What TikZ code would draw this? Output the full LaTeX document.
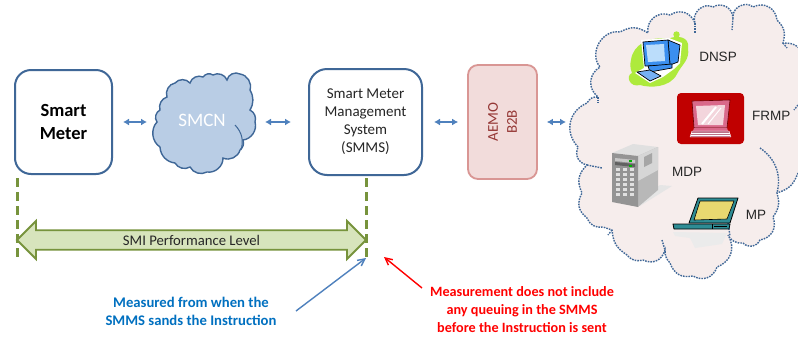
\documentclass[tikz,border=0pt]{standalone}
\usepackage{fontspec}
\setmainfont{Carlito}
\newfontfamily\arialf{Liberation Sans}
\usetikzlibrary{arrows.meta,shapes.arrows}
\definecolor{boxblue}{HTML}{3F6797}
\definecolor{linkblue}{HTML}{4F81BD}
\definecolor{cloudfill}{HTML}{B9CDE5}
\definecolor{cloudline}{HTML}{3F6797}
\definecolor{pinkfill}{HTML}{F2DCDB}
\definecolor{pinkline}{HTML}{D99694}
\definecolor{pinktext}{HTML}{953735}
\definecolor{greenline}{HTML}{77933C}
\definecolor{greenfill}{HTML}{D7E4BC}
\definecolor{bigfill}{HTML}{F6EDEC}
\definecolor{textblue}{HTML}{0070C0}
\definecolor{laptopteal}{HTML}{2E8C94}
\definecolor{limeblob}{HTML}{AEEA3C}
\definecolor{pcblue}{HTML}{3B8FEF}
\definecolor{pcscreen}{HTML}{BBDDFB}
\definecolor{frmpred}{HTML}{C00000}
\definecolor{lappink}{HTML}{D9698A}
\definecolor{lapscreen}{HTML}{F3D5DC}
\definecolor{lapyellow}{HTML}{E8D870}
\tikzset{
 roundbox/.style={draw=boxblue,line width=2pt,fill=white,rounded corners=16pt,inner sep=0pt},
 link/.style={draw=linkblue,line width=1.6pt,{Latex[length=6pt,width=7pt]}-{Latex[length=6pt,width=7pt]}},
 guide/.style={draw=greenline,line width=3pt,dash pattern=on 9pt off 5pt},
 devlabel/.style={font=\arialf\fontsize{13.5}{16}\selectfont,text=black!85,inner sep=0pt},
 callout/.style={line width=1.4pt,-{Straight Barb[length=7pt,width=7pt]}},
 dotline/.style={draw=cloudline,line width=1.4pt,dash pattern=on 1.6pt off 1.1pt},
 icon/.style={line join=round},
 bb/.style={bend left=#1,looseness=1.15}
}
\def\bigtop{(578,147) to[bb=55] (587,103) to[bb=30] (598,97)
 to[bb=55] (600,67) to[bb=70] (620,32) to[bb=30] (648,33)
 to[bb=60] (670,15) to[bb=50] (695,23) to[bb=70] (713,7)
 to[bb=60] (733,18) to[bb=70] (753,7) to[bb=55] (777,20)
 to[bb=30] (783,43) to[bb=40] (805,60)}
\def\bigbot{(798,173) to[bb=25] (777,193) to[bb=25] (773,217) to[bb=50] (760,240)
 to[bb=55] (743,243) to[bb=30] (728,235) to[bb=50] (717,267)
 to[bb=50] (693,276) to[bb=40] (670,263) to[bb=20] (665,250)
 to[bb=50] (643,260) to[bb=30] (627,255) to[bb=25] (612,230)
 to[bb=10] (603,227) to[bb=35] (587,218) to[bb=40] (582,193)
 to[bb=35] (587,165) to[bb=50] (578,147)}
\begin{document}
\begin{tikzpicture}[x=1pt,y=-1pt]
\useasboundingbox (0,0) rectangle (798,338);
\clip (0,0) rectangle (798,338);
\fill[white] (0,0) rectangle (798,338);
% ---- big cloud
\path[fill=bigfill] \bigtop -- (810,60) -- (810,173) -- \bigbot -- cycle;
\path[dotline] \bigtop;
\path[dotline] \bigbot;
% inner arcs of the big cloud
\path[dotline] (598,97) -- (598,103);
\path[dotline] (695,23) -- (695,33);
\path[dotline] (733,18) -- (732,30);
\path[dotline] (783,43) -- (787,48);
\path[dotline] (587,165) -- (602,168);
\path[dotline] (760,148) to[bend left=35] (777,193);
\path[dotline] (612,230) -- (608,235);
\path[dotline] (662,240) -- (665,250);
\path[dotline] (728,223) -- (730,236);
\path[dotline] (798,105) -- (794,110);
% ---- DNSP icon
\fill[icon,fill=limeblob] (631,60) .. controls (633,44) and (650,36) .. (668,39)
 .. controls (676,35) and (690,36) .. (688,48) .. controls (690,60) and (682,64) .. (677,74)
 .. controls (670,88) and (650,88) .. (640,85) .. controls (630,88) and (625,76) .. (632,73)
 .. controls (630,68) and (630,64) .. (631,60) -- cycle;
\fill[limeblob] (676.5,34.5) circle (3.2pt);
\begin{scope}[icon]
\fill[white] (641,40) -- (669,38) -- (682,43) -- (680,63) -- (674,69) -- (663,77) -- (650,83) -- (635,73) -- (644,68) -- cycle;
\filldraw[fill=pcblue,draw=black,line width=.7pt] (668,40) -- (680,45) -- (678,62) -- (670,65) -- cycle;
\filldraw[fill=pcblue,draw=black,line width=.7pt] (643,42) -- (668,40) -- (670,65) -- (645,66) -- cycle;
\fill[pcscreen] (646,45) -- (664,44) -- (665,61) -- (648,62) -- cycle;
\filldraw[fill=pcblue,draw=black,line width=.7pt] (648,66) -- (672,64) -- (672,68) -- (650,72) -- cycle;
\filldraw[fill=pcblue!70!white,draw=black,line width=.7pt] (637,72) -- (650,70) -- (661,76) -- (650,81) -- cycle;
\end{scope}
% ---- FRMP icon
\fill[fill=frmpred,rounded corners=4pt] (677,93) rectangle (744,144);
\begin{scope}[icon]
\filldraw[fill=lappink,draw=black!60!red,line width=.6pt] (692,101) -- (730,100) -- (727,128) -- (694,128) -- cycle;
\fill[lapscreen] (696,106) -- (725,105) -- (723,125) -- (698,125) -- cycle;
\draw[white,line width=2pt] (702,124) -- (716,107);
\draw[white,line width=1pt] (708,124) -- (721,108);
\fill[lappink] (694,128) -- (727,128) -- (728,131) -- (693,131) -- cycle;
\filldraw[fill=lappink!70!gray,draw=white,line width=.4pt] (692,131) -- (729,131) -- (731,137) -- (690,137) -- cycle;
\foreach \k in {133,135}{\draw[white,line width=.4pt] (691,\k) -- (730,\k);}
\end{scope}
% ---- MDP icon
\begin{scope}[icon]
\fill[black!10] (640,206) -- (672,186) -- (660,185) -- (638,200) -- cycle;
\fill[black!12] (612,153) -- (633,144) -- (658,147) -- (638,156) -- cycle;
\fill[black!28] (638,156) -- (658,147) -- (658,190) -- (638,207) -- cycle;
\fill[black!16] (638,156) -- (658,147) -- (658,170) -- (638,181) -- cycle;
\fill[black!42] (612,153) -- (638,156) -- (638,207) -- (612,202) -- cycle;
\fill[black!22] (615,158) -- (635,160) -- (635,163) -- (615,161) -- cycle;
\fill[black!62] (615,162) -- (635,164) -- (635,167) -- (615,165) -- cycle;
\fill[green!70!black] (629,160) rectangle (632,162);
\fill[green!70!black] (629,165) rectangle (632,167);
\foreach \cx in {616,623,630}{
 \foreach \cy in {168,173,178,183,188,193}{
  \fill[black!12] (\cx,\cy) rectangle ++(4,3.2);
 }
}
\fill[black!35] (644,157) -- (652,153) -- (652,163) -- (644,167) -- cycle;
\end{scope}
% ---- MP icon
\begin{scope}[icon]
\fill[black!8] (673,232) -- (727,233) -- (722,244) -- (695,248) -- (690,238) -- (675,236) -- cycle;
\filldraw[fill=laptopteal,draw=black,line width=.8pt] (698,198) -- (738,198) -- (730,223) -- (689,223) -- cycle;
\filldraw[fill=lapyellow,draw=black,line width=.6pt] (700,201) -- (734,201) -- (727,219) -- (694,220) -- cycle;
\filldraw[fill=laptopteal,draw=black,line width=.8pt] (673,224) -- (730,224) -- (729,229) -- (674,229) -- cycle;
\draw[black,line width=.6pt] (712,224) -- (712,229) (714,226.5) -- (727,226.5);
\end{scope}
% ---- device labels
\node[devlabel] (dnsp) at (718,57) {DNSP};
\node[devlabel,anchor=west] (frmp) at (752,116) {FRMP};
\node[devlabel] (mdp) at (687,172) {MDP};
\node[devlabel] (mp) at (756,215) {MP};
% ---- SMCN cloud
\path[draw=cloudline,line width=1.4pt,fill=cloudfill]
 (160,110) to[bend left=45] (167,97) to[bend left=50] (175,83) to[bend left=50] (190,83)
 to[bend left=50] (203,77) to[bend left=45] (213,75) to[bend left=50] (227,80)
 to[bend left=55] (240,74) to[bend left=50] (250,90) to[bend left=30] (250,110)
 to[bend left=40] (255,122) to[bend left=50] (243,140) to[bend left=35] (240,150)
 to[bend left=50] (223,158) to[bend left=50] (207,172) to[bend left=45] (190,167)
 to[bend left=45] (175,163) to[bend left=40] (160,147) to[bend left=50] (157,122)
 to[bend left=50] cycle;
\draw[cloudline,line width=1pt] (235,125) to[bend left=30] (241,150);
\coordinate (smcnw) at (157,122);
\coordinate (smcne) at (255,122);
\node[text=white,font=\fontsize{19}{20}\selectfont,inner sep=0pt] (smcn) at (202,120) {SMCN};
% ---- boxes
\node[roundbox,minimum width=97pt,minimum height=104pt,align=center,font=\bfseries\fontsize{18.5}{23}\selectfont] (sm) at (63.5,122) {Smart\\Meter};
\node[roundbox,minimum width=113pt,minimum height=106pt,rounded corners=18pt,align=center,font=\fontsize{15}{18}\selectfont,text=black!85] (smms) at (365.5,122) {Smart Meter\\Management\\System\\(SMMS)};
\node[draw=pinkline,line width=1.8pt,fill=pinkfill,rounded corners=10pt,minimum width=69pt,minimum height=114pt,inner sep=0pt] (aemo) at (502.5,122) {};
\node[rotate=90,align=center,text=pinktext,font=\fontsize{15}{19}\selectfont,inner sep=0pt] (aemot) at (502.5,122) {AEMO\\B2B};
\coordinate (bigw) at (577,122);
% ---- small links
\draw[link,shorten <=10pt,shorten >=10pt] (sm.east) -- (smcnw);
\draw[link,shorten <=10pt,shorten >=17pt] (smcne) -- (smms.west);
\draw[link,shorten <=11pt,shorten >=9pt] (smms.east) -- (aemo.west);
\draw[link,shorten <=9pt,shorten >=11pt] (aemo.east) -- (bigw);
% ---- guides
\coordinate (g1a) at (17,178); \coordinate (g1b) at (17,260);
\coordinate (g2a) at (366,178); \coordinate (g2b) at (366,260);
\draw[guide] (g1a) -- (g1b);
\draw[guide] (g2a) -- (g2b);
\node[double arrow,draw=greenline,line width=1.8pt,fill=greenfill,double arrow tip angle=90,double arrow head extend=9pt,double arrow head indent=0pt,minimum height=349pt,minimum width=38pt,inner xsep=2pt,inner ysep=3.5pt,text=black!85,font=\fontsize{14.7}{15}\selectfont] (perf) at (191.5,240) {SMI Performance Level};
% ---- callouts
\coordinate (bstart) at (296,311);
\coordinate (bend) at (366,258);
\coordinate (rstart) at (422,288);
\coordinate (rend) at (384,257);
\draw[callout,draw=linkblue] (bstart) -- (bend);
\draw[callout,draw=red] (rstart) -- (rend);
\node[align=center,text=textblue,font=\bfseries\fontsize{14.7}{18}\selectfont,inner sep=0pt] (btext) at (191,311) {Measured from when the\\SMMS sands the Instruction};
\node[align=center,text=red,font=\bfseries\fontsize{14.2}{18}\selectfont,inner sep=0pt] (rtext) at (522,310) {Measurement does not include\\any queuing in the SMMS\\before the Instruction is sent};
\end{tikzpicture}
\end{document}
